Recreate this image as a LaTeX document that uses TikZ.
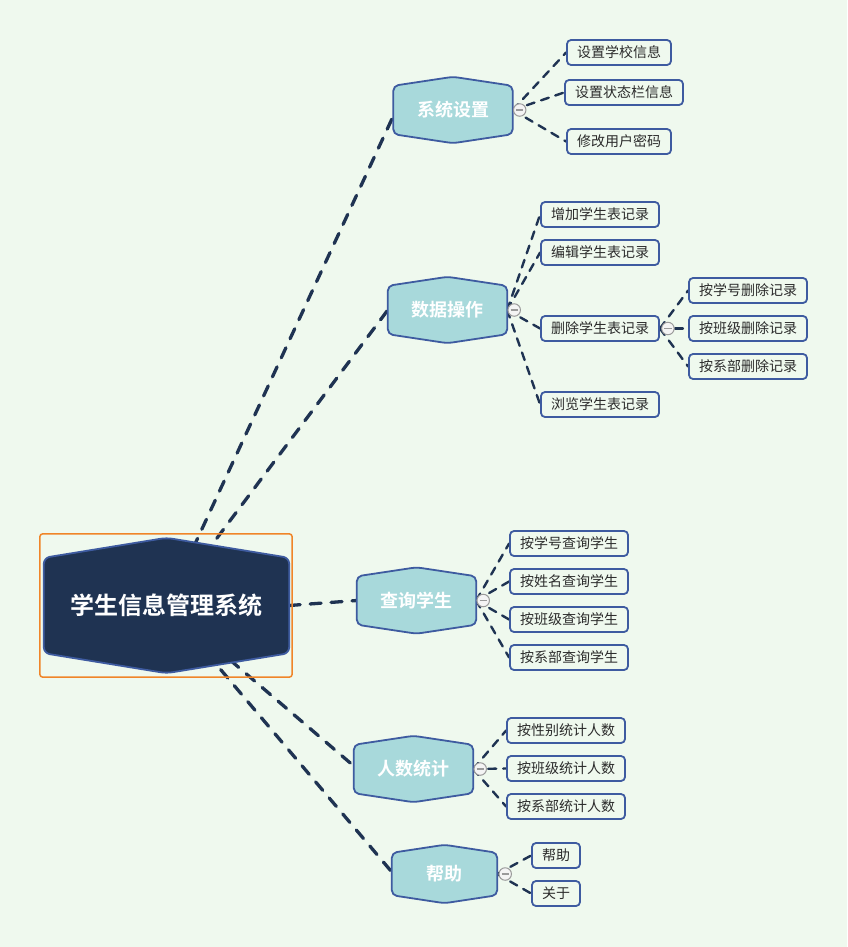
\documentclass[tikz,border=0pt]{standalone}
\usepackage{fontspec}
\setmainfont{Noto Sans CJK SC}[BoldFont={Noto Sans CJK SC Bold}]
\usetikzlibrary{calc}
\pgfdeclarelayer{back}\pgfdeclarelayer{lines}\pgfdeclarelayer{shapes}
\pgfsetlayers{back,lines,shapes,main}
\definecolor{bgc}{HTML}{EFF9EE}
\definecolor{navy}{HTML}{1F3352}
\definecolor{hexb}{HTML}{3E5BA0}
\definecolor{branchfill}{HTML}{A8D9DB}
\definecolor{leaftxt}{HTML}{2B2B2B}
\definecolor{orangeb}{HTML}{F08528}
\definecolor{foldb}{HTML}{9A9A9A}
\definecolor{foldf}{HTML}{F4F4F4}
\tikzset{
  leaf/.style={draw=hexb, line width=1.8pt, fill=bgc, rounded corners=4pt, minimum height=25pt, inner xsep=10pt, inner ysep=0pt, font=\fontsize{14}{14}\selectfont, text=leaftxt},
  branch/.style={minimum width=119pt, minimum height=66pt, inner sep=0pt, font=\bfseries\fontsize{18}{18}\selectfont, text=white},
  rootn/.style={minimum width=245pt, minimum height=135pt, inner sep=0pt, font=\bfseries\fontsize{24}{24}\selectfont, text=white},
  hexshape/.style={draw=hexb, line width=1.8pt, fill=branchfill, rounded corners=5pt},
  rootshape/.style={draw=hexb, line width=1.8pt, fill=navy, rounded corners=6pt},
  trunk/.style={draw=navy, line width=3.3pt, line cap=round, dash pattern=on 11pt off 10pt},
  twig/.style={draw=navy, line width=2.4pt, line cap=round, dash pattern=on 8pt off 7pt},
  fold/.style={circle, draw=foldb, fill=foldf, line width=1pt, minimum size=12.5pt, inner sep=0pt,
    path picture={\draw[foldb, line width=1.3pt] ([xshift=-3.6pt]path picture bounding box.center) -- ([xshift=3.6pt]path picture bounding box.center);}},
}
\newcommand\hexof[3]{%
  \begin{pgfonlayer}{shapes}
  \path[#3] ([yshift=-#2]#1.north west) -- (#1.north) -- ([yshift=-#2]#1.north east) -- ([yshift=#2]#1.south east) -- (#1.south) -- ([yshift=#2]#1.south west) -- cycle;
  \end{pgfonlayer}}
\begin{document}
\begin{tikzpicture}[x=1pt,y=-1pt]
\useasboundingbox (0,0) rectangle (847,947);
\begin{pgfonlayer}{back}
  \fill[bgc] (0,0) rectangle (847,947);
\end{pgfonlayer}

% root
\node[rootn] (root) at (166.5,605.5) {学生信息管理系统};
\hexof{root}{20pt}{rootshape}
\draw[orangeb, line width=1.5pt, rounded corners=3pt] ([shift={(-4pt,4pt)}]root.north west) rectangle ([shift={(3pt,-4pt)}]root.south east);

% branches
\node[branch] (sys) at (453,110) {系统设置};
\hexof{sys}{9pt}{hexshape}
\node[branch] (dat) at (447.5,310) {数据操作};
\hexof{dat}{9pt}{hexshape}
\node[branch] (qry) at (416.5,600.5) {查询学生};
\hexof{qry}{9pt}{hexshape}
\node[branch] (sta) at (413.5,769) {人数统计};
\hexof{sta}{9pt}{hexshape}
\node[branch, minimum width=105pt, minimum height=58pt] (hlp) at (444.5,874) {帮助};
\hexof{hlp}{8pt}{hexshape}

% leaves
\node[leaf] (s1) at (619,52.5) {设置学校信息};
\node[leaf] (s2) at (624,92.5) {设置状态栏信息};
\node[leaf] (s3) at (619,141.5) {修改用户密码};

\node[leaf] (d1) at (600,214.5) {增加学生表记录};
\node[leaf] (d2) at (600,252.5) {编辑学生表记录};
\node[leaf] (d3) at (600,328.5) {删除学生表记录};
\node[leaf] (d4) at (600,404.5) {浏览学生表记录};

\node[leaf] (e1) at (748,290.5) {按学号删除记录};
\node[leaf] (e2) at (748,328.5) {按班级删除记录};
\node[leaf] (e3) at (748,366.5) {按系部删除记录};

\node[leaf] (q1) at (569,543.5) {按学号查询学生};
\node[leaf] (q2) at (569,581.5) {按姓名查询学生};
\node[leaf] (q3) at (569,619.5) {按班级查询学生};
\node[leaf] (q4) at (569,657.5) {按系部查询学生};

\node[leaf] (t1) at (566,730.5) {按性别统计人数};
\node[leaf] (t2) at (566,768.5) {按班级统计人数};
\node[leaf] (t3) at (566,806.5) {按系部统计人数};

\node[leaf] (h1) at (556,855.5) {帮助};
\node[leaf] (h2) at (556,893.5) {关于};

% connectors
\begin{pgfonlayer}{lines}
  \draw[trunk] (root.center) -- ([yshift=-6pt]sys.west);
  \draw[trunk] (root.center) -- (dat.west);
  \draw[trunk] (root.east) -- (qry.west);
  \draw[trunk] (root.center) -- ([yshift=3pt]sta.west);
  \draw[trunk] (root.center) -- ([yshift=2pt]hlp.west);

  \foreach \l in {s1,s2,s3} \draw[twig] (sys.east) -- (\l.west);
  \foreach \l in {d1,d2,d3,d4} \draw[twig] (dat.east) -- (\l.west);
  \foreach \l in {e1,e2,e3} \draw[twig] (d3.east) -- (\l.west);
  \foreach \l in {q1,q2,q3,q4} \draw[twig] (qry.east) -- (\l.west);
  \foreach \l in {t1,t2,t3} \draw[twig] (sta.east) -- (\l.west);
  \foreach \l in {h1,h2} \draw[twig] (hlp.east) -- (\l.west);
\end{pgfonlayer}

% fold markers
\node[fold] (f1) at ([xshift=7pt]sys.east) {};
\node[fold] (f2) at ([xshift=7pt]dat.east) {};
\node[fold] (f3) at ([xshift=8pt]d3.east) {};
\node[fold] (f4) at ([xshift=7pt]qry.east) {};
\node[fold] (f5) at ([xshift=7pt]sta.east) {};
\node[fold] (f6) at ([xshift=8pt]hlp.east) {};
\end{tikzpicture}
\end{document}
